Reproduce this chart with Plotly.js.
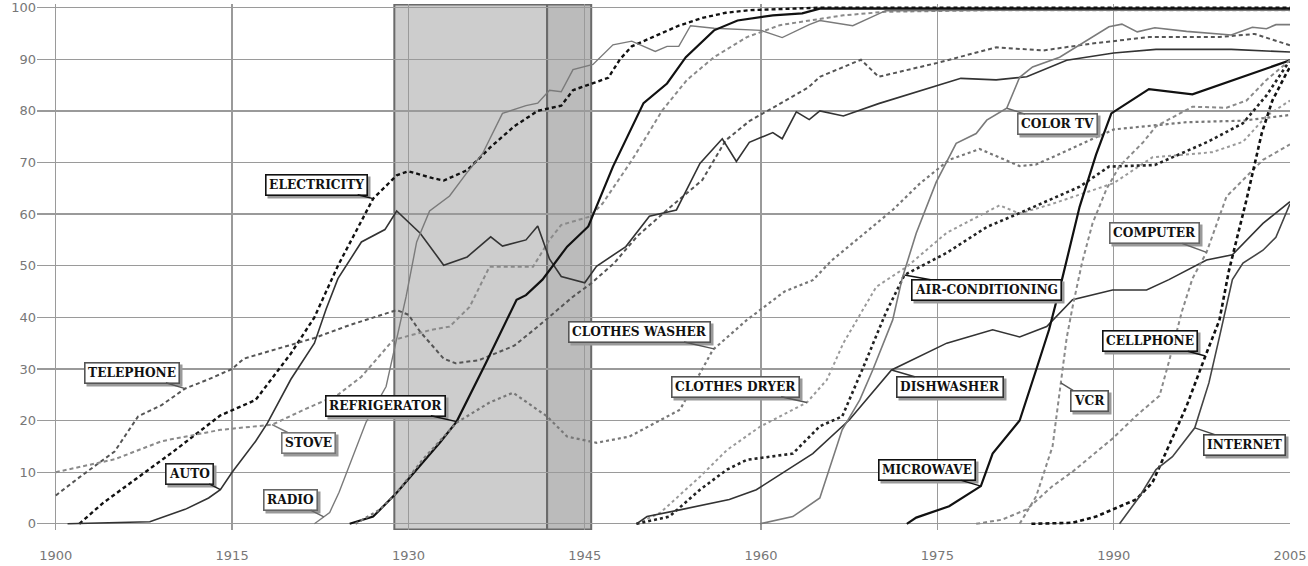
<!DOCTYPE html>
<html>
<head>
<meta charset="utf-8">
<script src="https://cdn.plot.ly/plotly-3.0.1.min.js"></script>
<style>
  html, body { margin: 0; padding: 0; background: #fff; overflow: hidden; }
  #chart { width: 1308px; height: 566px; }
</style>
</head>
<body>
<div id="chart"></div>
<script>
// ---------- data (share of US households, %) ----------
const electricity_yr = [1902,1904,1907,1910,1914,1917,1920,1922,1924,1927,1929,1930,1932,1933,1935,1937,1939,1941,1942,1943,1944,1947,1948,1949,1951,1953,1955,1957,1959,1962,1965,2005];
const electricity    = [0,4,9,14,21,24,33,40,50,63,67.5,68.3,67,66.5,68.5,73,77,80,80.5,81,84,86.4,90,92.5,94.5,96.5,98,99,99.5,99.8,100,100];

const telephone_yr = [1900,1902,1905,1907,1909,1911,1913,1915,1916,1919,1922,1925,1929,1930,1931,1933,1934,1936,1939,1941,1944,1945.5,1947.5,1949.5,1952,1955,1957,1959,1962,1964,1965,1968.5,1970,1975,1980,1984,1988,1993,1999,2002,2005];
const telephone    = [5.5,9,14,20.8,23,26.2,28,30,32,34,36,38.5,41.4,40.5,37.2,32,31.1,31.7,34.5,38.2,44,46.5,50.5,55.8,60.8,66.6,74.3,78,82,84.5,86.6,89.9,86.6,89.3,92.3,91.7,93,94.3,94.3,94.9,92.7];

const stove_yr = [1900,1905,1909,1914,1918.4,1921,1924,1926,1928.7,1931.8,1933.5,1935.2,1936.9,1940.6,1942,1943,1945.4,1946.5,1949,1951.6,1953.7,1956,1958.8,1961.6,1964.4,1967,1970.6,1980,2005];
const stove    = [10,12.5,16,18.2,19.2,22,25,28.5,35.6,37.5,38.2,42,49.8,49.8,55,57.9,59.5,62,70.4,80.1,86,90.4,94.3,96.6,97.6,98.5,99.2,99.5,99.5];

const auto_yr = [1901,1905,1908,1911,1913,1914,1915,1917,1918,1920,1922,1923,1924,1926,1928,1929,1931,1933,1935,1937,1938,1940,1941,1942,1943,1945,1946,1948.5,1950.5,1952.8,1954.8,1956.7,1957.9,1959,1961,1961.8,1963,1964.1,1965,1967,1970,1977,1980,1982.6,1986,1990,1993.6,2000,2002,2005];
const auto    = [0,0.2,0.4,2.8,5,6.6,10,16,19.5,28,35,41.6,47.5,54.6,57,60.6,56.3,50.1,51.7,55.6,53.8,55,57.7,51.3,47.9,46.7,49.9,53.7,59.6,60.8,69.8,74.6,70.2,73.9,75.8,74.6,79.8,78.3,80,79,81.4,86.3,86,86.6,89.8,91.2,91.9,91.9,91.7,91.4];

const radio_yr = [1922,1923.3,1924.1,1926.4,1928.1,1929,1929.8,1930.7,1931.8,1933.5,1934.9,1936.3,1938,1940,1941,1942,1943,1944,1945.7,1947.4,1949,1951,1952,1953,1954,1956,1960,1961.8,1964.1,1965,1967.8,1970.6,1980,2005];
const radio    = [0,2.2,6.1,19.7,26.6,35.6,44,54.6,60.6,63.5,67.8,71.7,79.5,81,81.5,84,83.7,88,89,92.8,93.5,91.5,92.5,92.5,96.5,96,95.6,94.2,96.7,97.5,96.5,99.4,99.5,99.5];

const fridge_yr = [1925,1927,1929,1930,1932.7,1934.1,1936.6,1939.2,1940,1941.4,1943.5,1945.3,1947.4,1950,1952,1953.6,1956,1958,1961,1963.5,1965,2005];
const fridge    = [0,1.4,6,8.6,15.8,19.8,31.2,43.4,44.3,47.3,53.7,57.6,69.2,81.5,85.3,90.4,95.6,97.5,98.5,98.9,99.8,99.8];

const washer_yr = [1925.5,1927.6,1929,1931.2,1934.1,1936.9,1938.9,1941.8,1943.5,1946,1948.8,1953.1,1955.9,1958.8,1962,1964.4,1966,1971.2,1973.5,1976,1978.6,1982,1983.4,1990,1996.2,2001,2005];
const washer    = [0,2.8,6,12.4,19.6,23.5,25.4,20.8,16.9,15.7,16.9,22.1,33.7,39.5,45,47.2,51,60.8,65.9,70.5,72.6,69.3,69.6,76.4,77.8,78.1,79.2];

const dryer_yr = [1949.4,1951.4,1954.8,1957.1,1959.9,1963.9,1965.6,1967,1969.8,1972.4,1975.8,1980.3,1982,1984.8,1990,1993.3,1998.4,2001,2003,2005];
const dryer    = [0,2.1,9.1,14.3,18.8,23.5,27.9,35,45.9,49.8,56.4,61.7,60.1,62,66,71,72,74,79,82];

const ac_yr = [1949.4,1952.2,1954.8,1957.1,1958.8,1962.7,1965,1966.9,1968.6,1970.6,1972.2,1975.8,1979.2,1982,1987.1,1989.6,1993.5,1998,2001,2003,2005];
const ac    = [0,1.4,6.6,10.5,12.4,13.6,18.9,20.8,29.8,40.8,48.2,52.5,57.5,60.2,65.3,69.2,69.5,74,77.6,83,89.8];

const dish_yr = [1949.4,1950.3,1953.1,1957.3,1959.6,1964.4,1967.5,1971.1,1975.8,1979.7,1982,1984.3,1986.5,1989.9,1992.8,1994.7,1997.9,2000.1,2002.7,2005];
const dish    = [0,1.4,2.7,4.7,6.6,13.6,20.1,29.8,35,37.6,36.2,38.2,43.4,45.3,45.3,47.3,51.1,52.1,58.2,62.4];

const colortv_yr = [1959.9,1962.7,1965,1966.9,1968.4,1969.5,1971.2,1972,1973.2,1974.9,1976.6,1978.3,1979.2,1980.9,1982,1983.1,1985.4,1987.7,1989.6,1990.7,1992,1993.5,1996.2,2000,2001.8,2003,2003.8,2005];
const colortv    = [0,1.4,5,18.2,24,29.8,39.5,47.5,56.3,66.2,73.7,75.6,78.2,80.5,86.5,88.5,90.4,93.7,96.3,96.8,95.3,96.1,95.4,94.7,96.2,95.9,96.7,96.7];

const microwave_yr = [1972.4,1973.2,1976,1978.7,1979.7,1982,1983.4,1984.5,1985.6,1987.1,1988.5,1989.8,1993,1996.7,2005];
const microwave    = [0,1.2,3.4,7.3,13.6,20,29.8,37.6,47.3,61.4,71.5,79.5,84.2,83.2,89.8];

const vcr_yr = [1982,1983.4,1984.8,1985.5,1986,1986.5,1987.3,1988.2,1989.4,1990.5,1992.5,1993.6,1996.7,1999.6,2001.3,2003,2005];
const vcr    = [0,5.3,15,27.3,36,42,50.5,58.2,64.9,69.3,73.9,77,80.8,80.6,82,86,89.8];

const computer_yr = [1978.3,1980.5,1982.6,1984.8,1986.5,1989.9,1991.9,1993.9,1994.7,1995.8,1996.7,1997.9,1999.6,2001.3,2002.7,2005];
const computer    = [0,0.8,2.8,7.3,10.1,16.5,20.9,24.8,31.4,41.1,47.5,52.6,63.4,67.2,70.5,73.5];

const cell_yr = [1983,1986.5,1988.5,1990.5,1991.9,1993.3,1994.7,1996.2,1997.8,1999,1999.8,2001.3,2002.6,2003.5,2004.7,2005];
const cell    = [0,0.2,1.4,3.4,4.7,8,15,22.8,32.5,39.5,49,62.8,75.7,82,87.3,88.5];

const internet_yr = [1990.5,1992.2,1993.6,1995,1996.9,1998.1,1999,2000.1,2001,2002.7,2003.8,2005];
const internet    = [0,5.3,10.5,13,18.6,27.3,36.2,47.3,50.5,53,55.5,62];

// shaded periods: Great Depression, World War II
const depression = [1928.8, 1941.8];
const wartime    = [1941.8, 1945.55];

// axis ticks
const xTicks = [1900,1915,1930,1945,1960,1975,1990,2005];
const yTicks = [0,10,20,30,40,50,60,70,80,90,100];

// ---------- series definitions ----------
const series = [
  {name:'ELECTRICITY', x:electricity_yr, y:electricity, color:'#111', dash:'4px,3px', width:2.4, label:1927, ax:-57, ay:-14, border:'#111'},
  {name:'TELEPHONE', x:telephone_yr, y:telephone, color:'#555', dash:'4px,3px', width:2.0, label:1911, ax:-53, ay:-16, border:'#555'},
  {name:'STOVE', x:stove_yr, y:stove, color:'#8a8a8a', dash:'4px,3px', width:2.0, label:1918.4, ax:36, ay:18, border:'#777'},
  {name:'AUTO', x:auto_yr, y:auto, color:'#333', dash:'solid', width:1.6, label:1914, ax:-31, ay:-16, border:'#222'},
  {name:'RADIO', x:radio_yr, y:radio, color:'#7a7a7a', dash:'solid', width:1.4, label:1922.8, ax:-33, ay:-17, border:'#666'},
  {name:'REFRIGERATOR', x:fridge_yr, y:fridge, color:'#111', dash:'solid', width:2.2, label:1934.1, ax:-71, ay:-16, border:'#111'},
  {name:'CLOTHES WASHER', x:washer_yr, y:washer, color:'#777', dash:'dot', width:2.2, label:1956, ax:-75, ay:-17, border:'#555'},
  {name:'CLOTHES DRYER', x:dryer_yr, y:dryer, color:'#9a9a9a', dash:'dot', width:2.0, label:1963.9, ax:-71, ay:-16, border:'#555'},
  {name:'AIR-CONDITIONING', x:ac_yr, y:ac, color:'#222', dash:'dot', width:2.6, label:1972.2, ax:82, ay:15, border:'#111'},
  {name:'DISHWASHER', x:dish_yr, y:dish, color:'#333', dash:'solid', width:1.6, label:1971.1, ax:58, ay:17, border:'#333'},
  {name:'COLOR TV', x:colortv_yr, y:colortv, color:'#7a7a7a', dash:'solid', width:1.6, label:1980.9, ax:51, ay:16, border:'#666'},
  {name:'MICROWAVE', x:microwave_yr, y:microwave, color:'#111', dash:'solid', width:2.2, label:1978.7, ax:-54, ay:-16, border:'#111'},
  {name:'VCR', x:vcr_yr, y:vcr, color:'#8a8a8a', dash:'4px,3px', width:2.0, label:1985.5, ax:29, ay:18, border:'#555'},
  {name:'COMPUTER', x:computer_yr, y:computer, color:'#8a8a8a', dash:'4px,3px', width:2.0, label:1997.9, ax:-52, ay:-19, border:'#666'},
  {name:'CELLPHONE', x:cell_yr, y:cell, color:'#111', dash:'4px,3px', width:2.6, label:1997.8, ax:-55, ay:-15, border:'#111'},
  {name:'INTERNET', x:internet_yr, y:internet, color:'#444', dash:'solid', width:1.6, label:1996.9, ax:50, ay:17, border:'#444'}
];

function interp(xs, ys, x) {
  for (let i = 0; i < xs.length - 1; i++) {
    if (x >= xs[i] && x <= xs[i+1]) {
      const t = (x - xs[i]) / (xs[i+1] - xs[i]);
      return ys[i] + t * (ys[i+1] - ys[i]);
    }
  }
  return ys[ys.length - 1];
}

const traces = series.map(s => ({
  type: 'scatter', mode: 'lines', name: s.name,
  x: s.x, y: s.y,
  line: {color: s.color, width: s.width, dash: s.dash},
  hoverinfo: 'skip'
}));

const annotations = series.map(s => ({
  x: s.label, y: interp(s.x, s.y, s.label), xref: 'x', yref: 'y',
  text: s.name, showarrow: true, arrowhead: 0, arrowwidth: 1.4, arrowcolor: s.border,
  ax: s.ax, ay: s.ay, standoff: 0,
  bgcolor: '#ffffff', bordercolor: s.border, borderwidth: 1.6, borderpad: 2.5,
  font: {family: 'DejaVu Serif', size: 12.2, color: '#111', weight: 'bold'}
}));

const shapes = [
  {type:'rect', xref:'x', yref:'y', x0:depression[0], x1:depression[1], y0:-1.1, y1:100.6,
   fillcolor:'#cdcdcd', line:{color:'#6a6a6a', width:2}, layer:'below'},
  {type:'rect', xref:'x', yref:'y', x0:wartime[0], x1:wartime[1], y0:-1.1, y1:100.6,
   fillcolor:'#bbbbbb', line:{color:'#6a6a6a', width:2}, layer:'below'}
];

const layout = {
  width: 1308, height: 566,
  margin: {l: 37, r: 18, t: 4, b: 36},
  paper_bgcolor: '#ffffff', plot_bgcolor: '#ffffff',
  showlegend: false,
  xaxis: {
    range: [1898.4, 2005], tickmode: 'array', tickvals: xTicks,
    ticktext: xTicks.map(String),
    showgrid: true, gridcolor: '#9a9a9a', gridwidth: 1.3,
    zeroline: false, showline: false, ticks: '',
    tickfont: {family: 'DejaVu Sans', size: 13, color: '#777'},
    ticklabelstandoff: 16
  },
  yaxis: {
    range: [-1.2, 100.7], tickmode: 'array', tickvals: yTicks,
    showgrid: true, gridcolor: '#9a9a9a', gridwidth: 1.3,
    zeroline: false, showline: false, ticks: '',
    tickfont: {family: 'DejaVu Sans', size: 13, color: '#777'},
    ticklabelstandoff: 0
  },
  shapes: shapes,
  annotations: annotations
};

Plotly.newPlot('chart', traces, layout, {staticPlot: true, displayModeBar: false}).then(gd => {
  // soft drop shadow behind each label box (graphic only, no extra text)
  gd.querySelectorAll('.annotation rect.bg').forEach(r => {
    const c = r.cloneNode(false);
    const t = r.getAttribute('transform') || '';
    c.setAttribute('transform', t + ' translate(2.5,2.5)');
    c.style.fill = '#9a9a9a';
    c.style.stroke = '#9a9a9a';
    c.style.strokeWidth = '1.6px';
    r.parentNode.insertBefore(c, r);
  });
});
</script>
</body>
</html>
